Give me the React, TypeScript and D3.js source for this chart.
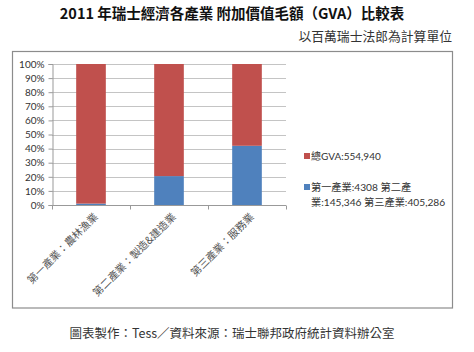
import React, { useEffect, useRef } from "react";
import * as d3 from "d3";

const categories = ["第一產業：農林漁業", "第二產業：製造&建造業", "第三產業：服務業"];
const bluePct = [1, 20.5, 42];
const redPct = [99, 79.5, 58];
const yTicks = [0, 10, 20, 30, 40, 50, 60, 70, 80, 90, 100];
const legendRed = ["總GVA:554,940"];
const legendBlue = ["第一產業:4308 第二產", "業:145,346 第三產業:405,286"];

const RED = "#C0504D";
const BLUE = "#4F81BD";
const CJK = "'Noto Sans CJK TC', 'Noto Sans', sans-serif";
const LAT = "Lato, 'Noto Sans CJK TC', sans-serif";

const App = () => {
  const ref = useRef<SVGSVGElement>(null);

  useEffect(() => {
    const svg = d3.select(ref.current);
    svg.selectAll("*").remove();

    // page background + frame
    svg.append("rect").attr("width", 474).attr("height", 352).attr("fill", "#fff");
    svg.append("rect")
      .attr("x", 12.5).attr("y", 51.5).attr("width", 440).attr("height", 256.5)
      .attr("fill", "none").attr("stroke", "#8c8c8c").attr("stroke-width", 1.2);

    // titles
    svg.append("text")
      .attr("x", 232).attr("y", 19).attr("text-anchor", "middle")
      .style("font-family", CJK).style("font-size", "14.5px").style("font-weight", "bold")
      .attr("fill", "#111")
      .text("2011 年瑞士經濟各產業 附加價值毛額（GVA）比較表");
    svg.append("text")
      .attr("x", 452).attr("y", 41).attr("text-anchor", "end")
      .style("font-family", CJK).style("font-size", "12.8px")
      .attr("fill", "#333")
      .text("以百萬瑞士法郎為計算單位");
    svg.append("text")
      .attr("x", 232).attr("y", 338).attr("text-anchor", "middle")
      .style("font-family", CJK).style("font-size", "12.5px")
      .attr("fill", "#333")
      .text("圖表製作：Tess／資料來源：瑞士聯邦政府統計資料辦公室");

    const left = 52, right = 286, top = 64, bottom = 205;
    const x = d3.scaleBand<string>().domain(categories).range([left, right]).paddingInner(0.62).paddingOuter(0.31);
    const y = d3.scaleLinear().domain([0, 100]).range([bottom, top]);

    // gridlines
    svg.append("g").selectAll("line").data(yTicks.slice(1)).enter().append("line")
      .attr("x1", left).attr("x2", right)
      .attr("y1", (d) => Math.round(y(d)) + 0.5).attr("y2", (d) => Math.round(y(d)) + 0.5)
      .attr("stroke", "#c4c4c4").attr("stroke-width", 1);

    // y axis
    const yAxis = svg.append("g")
      .attr("transform", `translate(${left + 0.5},0)`)
      .call(d3.axisLeft(y).tickValues(yTicks).tickSize(4).tickFormat((d) => `${d}%`));
    yAxis.select(".domain").attr("stroke", "#999");
    yAxis.selectAll(".tick line").attr("stroke", "#999");
    yAxis.selectAll(".tick text")
      .style("font-family", LAT).style("font-size", "10px").attr("fill", "#333").attr("dx", "-1");

    // bars
    const stackData = categories.map((c, i) => ({ cat: c, blue: bluePct[i], red: redPct[i] }));
    const series = d3.stack<any>().keys(["blue", "red"])(stackData);
    const colors: Record<string, string> = { blue: BLUE, red: RED };
    series.forEach((s) => {
      svg.append("g").selectAll("rect").data(s).enter().append("rect")
        .attr("x", (d) => x(d.data.cat)!)
        .attr("width", x.bandwidth())
        .attr("y", (d) => y(d[1]))
        .attr("height", (d) => y(d[0]) - y(d[1]))
        .attr("fill", colors[s.key]);
    });

    // x axis
    const xAxis = svg.append("g")
      .attr("transform", `translate(0,${bottom + 0.5})`);
    xAxis.append("line").attr("x1", left).attr("x2", right).attr("stroke", "#999");
    const bounds = [left, left + (right - left) / 3, left + (2 * (right - left)) / 3, right];
    xAxis.selectAll("line.tk").data(bounds).enter().append("line")
      .attr("class", "tk")
      .attr("x1", (d) => Math.round(d) + 0.5).attr("x2", (d) => Math.round(d) + 0.5)
      .attr("y1", 0).attr("y2", 4).attr("stroke", "#999");

    // rotated category labels
    svg.append("g").selectAll("text").data(categories).enter().append("text")
      .attr("transform", (d) => `translate(${x(d)! + x.bandwidth() / 2 + 5},${bottom + 10}) rotate(-45)`)
      .attr("text-anchor", "end")
      .attr("dy", "0.35em")
      .style("font-family", CJK).style("font-size", "10.5px").attr("fill", "#555")
      .text((d) => d);

    // legend
    const lg = svg.append("g");
    lg.append("rect").attr("x", 304).attr("y", 153).attr("width", 6).attr("height", 6).attr("fill", RED);
    lg.append("text").attr("x", 311).attr("y", 159.5)
      .style("font-family", LAT).style("font-size", "10px").attr("fill", "#333")
      .text(legendRed[0]);
    lg.append("rect").attr("x", 304).attr("y", 184).attr("width", 6).attr("height", 6).attr("fill", BLUE);
    legendBlue.forEach((t, i) => {
      lg.append("text").attr("x", 311).attr("y", 190.5 + i * 15)
        .style("font-family", LAT).style("font-size", "10.2px").attr("fill", "#333")
        .text(t);
    });
  }, []);

  return (
    <svg
      ref={ref}
      width={474}
      height={352}
      style={{ position: "absolute", left: 0, top: 0, display: "block" }}
    />
  );
};

export default App;
